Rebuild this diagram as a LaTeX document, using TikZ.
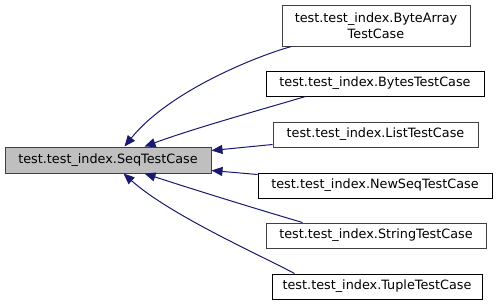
\documentclass[tikz,border=0pt]{standalone}
\usepackage{fontspec}
\setmainfont{DejaVu Sans}
\usetikzlibrary{arrows.meta}
\definecolor{edgeblue}{RGB}{25,25,112}
\definecolor{boxgray}{RGB}{64,64,64}
\definecolor{basefill}{RGB}{191,191,191}
\tikzset{
  cls/.style={draw=black, line width=1pt, fill=white, inner sep=0pt,
    minimum height=25pt, align=center,
    font=\fontsize{12.8}{15.5}\selectfont},
  clsgray/.style={cls, draw=boxgray},
  inherit/.style={draw=edgeblue, line width=1pt,
    -{Triangle[length=11pt,width=9pt]}, edgeblue},
}
\begin{document}
\begin{tikzpicture}[x=1pt,y=-1pt]
\useasboundingbox (0,0) rectangle (499,306);
\fill[white] (0,0) rectangle (499,306);

% base class
\node[cls, draw=boxgray, fill=basefill, minimum width=206pt, minimum height=26pt]
  (base) at (108,160) {test.test\_index.SeqTestCase};

% derived classes
\node[clsgray, minimum width=188pt, minimum height=41pt] (bytearray) at (376,25.5)
  {test.test\_index.ByteArray\\TestCase};
\node[cls, minimum width=218pt] (bytes) at (375,83.5) {test.test\_index.BytesTestCase};
\node[clsgray, minimum width=205pt] (list) at (375.5,134.5) {test.test\_index.ListTestCase};
\node[cls, minimum width=234pt] (newseq) at (375,185.5) {test.test\_index.NewSeqTestCase};
\node[clsgray, minimum width=220pt] (string) at (376,235.5) {test.test\_index.StringTestCase};
\node[cls, minimum width=210pt] (tuple) at (377,286.5) {test.test\_index.TupleTestCase};

% inheritance edges
\draw[inherit] ([xshift=10pt]bytearray.south west)
  .. controls (260,55) and (170,90) .. ([xshift=120pt]base.north west);
\draw[inherit] ([xshift=40pt]bytes.south west)
  .. controls (260,110) and (195,128) .. ([xshift=140pt]base.north west);
\draw[inherit] ([yshift=3pt]list.south west) -- ([yshift=-4pt]base.north east);
\draw[inherit] ([yshift=-2pt]newseq.north west) -- ([yshift=3pt]base.south east);
\draw[inherit] ([xshift=37pt]string.north west)
  .. controls (260,210) and (195,190) .. ([xshift=140pt]base.south west);
\draw[inherit] ([xshift=23pt]tuple.north west)
  .. controls (260,255) and (170,215) .. ([xshift=119pt]base.south west);
\end{tikzpicture}
\end{document}
